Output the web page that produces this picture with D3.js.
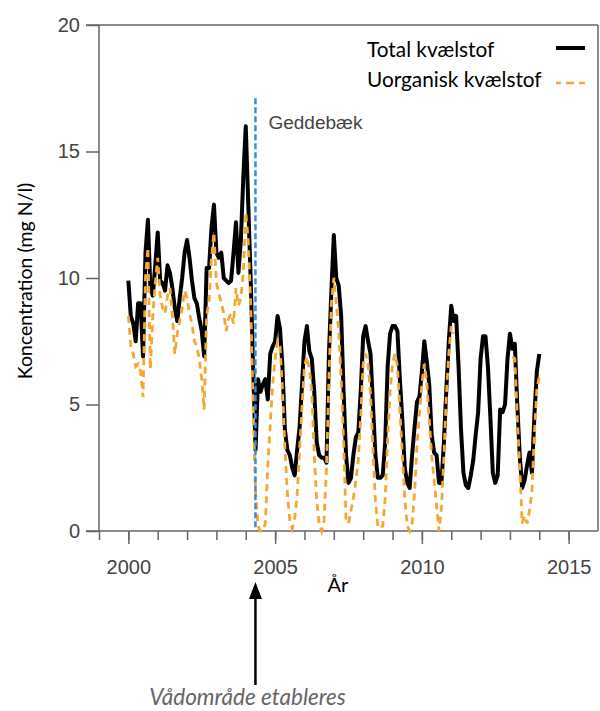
<!DOCTYPE html>
<html>
<head>
	<title>Geddebæk - kvælstof</title>
	<script src="https://d3js.org/d3.v7.min.js"></script>
	<style type="text/css">
		body {
			margin: 0;
			background: #fff;
		}
		svg {
			display: block;
		}
		.axis text {
			font-family: "Liberation Sans", Arial, sans-serif;
			font-size: 20px;
			fill: #444;
		}
		.axis line {
			stroke: #666;
			stroke-width: 1.5;
		}
		.frame {
			stroke: #666;
			stroke-width: 1.5;
		}
		.label {
			font-family: Lato, "Open Sans", sans-serif;
			fill: #000;
		}
	</style>
</head>
<body>

<div id="chart"></div>

<script>
	// monthly values, Jan 2000 - Jan 2014 (mg N/l)
	var totalN = [
		9.9, 8.5, 8.2, 7.5, 9.0, 9.0, 6.9, 11.0, 12.3, 9.6, 9.3, 10.5,
		11.8, 9.9, 9.8, 9.5, 10.5, 10.2, 9.6, 8.8, 8.3, 9.2, 10.0, 11.0,
		11.5, 10.8, 9.9, 9.2, 9.0, 8.4, 7.9, 6.9, 10.4, 10.4, 12.0, 12.9,
		11.0, 10.8, 11.0, 10.0, 9.9, 9.8, 9.9, 11.0, 12.2, 10.2, 11.5, 14.0,
		16.0, 13.0, 10.0, 6.5, 3.2, 6.0, 5.5, 5.8, 6.0, 5.2, 7.0, 7.3,
		7.5, 8.5, 8.0, 6.5, 4.0, 3.2, 3.0, 2.5, 2.2, 3.2, 4.1, 5.8,
		7.5, 8.1, 7.1, 6.8, 5.5, 3.5, 3.0, 2.9, 2.9, 2.7, 7.0, 9.5,
		11.7, 10.0, 9.7, 8.5, 5.5, 3.0, 1.9, 2.1, 3.0, 3.7, 3.9, 5.5,
		7.7, 8.1, 7.5, 7.0, 5.0, 3.0, 2.1, 2.1, 2.2, 3.5, 6.5, 7.8,
		8.1, 8.1, 7.9, 6.0, 4.4, 2.5, 1.9, 1.7, 3.0, 4.1, 5.1, 5.3,
		6.3, 7.5, 6.7, 5.8, 3.8, 3.1, 3.0, 1.9, 1.9, 3.5, 5.6, 7.5,
		8.9, 8.3, 8.5, 6.5, 4.0, 2.3, 1.8, 1.7, 2.2, 2.8, 3.8, 4.7,
		6.8, 7.7, 7.7, 6.5, 4.5, 2.3, 1.9, 2.2, 4.8, 4.7, 5.0, 6.8,
		7.8, 7.2, 7.4, 5.0, 3.0, 1.7, 2.0, 2.6, 3.1, 2.3, 4.6, 6.3,
		7.0
	];

	// null = no measurement
	var inorgN = [
		8.5, 7.3, 7.0, 6.5, 6.6, 6.3, 5.3, 10.0, 11.2, 6.4, 8.5, 9.8,
		10.8, 9.3, 8.8, 8.6, 9.3, 9.6, 8.5, 7.0, 7.8, 8.3, 8.8, 9.5,
		9.2, 8.6, 8.2, 7.5, 7.3, 6.8, 6.0, 4.8, 8.5, 9.1, 10.8, 11.8,
		9.8, 9.4, 9.0, 8.6, 7.9, 8.4, 8.6, 8.2, 9.6, 8.9, 9.2, 10.2,
		12.6, 11.5, 9.0, 5.0, 1.5, 0.2, 0.0, 0.0, 0.3, 2.6, 4.2, 5.8,
		6.8, 7.5, 7.3, 5.6, 3.3, 1.5, 0.4, 0.1, 0.5, 1.4, 3.2, 4.9,
		6.5, 6.9, 6.4, 5.5, 3.0, 1.2, 0.3, 0.0, 0.4, 2.5, 6.0, 9.0,
		10.0, 9.0, 7.9, 6.0, 3.5, 0.4, 0.3, 0.8, 1.3, 2.0, 2.8, 4.5,
		6.6, 7.0, 6.6, 5.4, 3.2, 1.2, 0.2, 0.1, 0.2, 1.3, 3.6, 5.5,
		6.6, 7.0, 6.5, 4.8, 3.0, 1.3, 0.2, 0.0, 0.3, 1.5, 3.4, 4.6,
		5.8, 6.6, 5.9, 4.4, 3.0, 2.0, 1.0, 0.0, 0.9, 2.9, 5.4, 7.0,
		8.1, 7.8, null, null, null, null, null, null, null, null, null, null,
		null, null, null, null, null, null, null, null, null, null, null, null,
		null, 6.9, 6.8, 4.5, 2.5, 0.3, 0.6, 0.3, 0.8, 1.6, 3.8, 5.6,
		6.1
	];

	var startYear = 2000;
	var yearTicks = [1999, 2000, 2001, 2002, 2003, 2004, 2005, 2006, 2007, 2008, 2009, 2010, 2011, 2012, 2013, 2014, 2015];
	var yearLabels = [2000, 2005, 2010, 2015];
	var yTicks = [0, 5, 10, 15, 20];
	var seriesNames = ["Total kvælstof", "Uorganisk kvælstof"];

	// wetland established
	var geddeYear = 2004.33;
	var geddeTop = 17.1;

	var margin = {top: 25, left: 99, bottom: 180, right: 2};
	var width = 600 - margin.left - margin.right;
	var height = 711 - margin.top - margin.bottom;

	var x = d3.scaleLinear().domain([1999, 2016]).range([0, width]);
	var y = d3.scaleLinear().domain([0, 20]).range([height, 0]);

	var svg = d3.select("#chart").append("svg")
		.attr("width", 600)
		.attr("height", 711)
		.append("g")
		.attr("transform", "translate(" + margin.left + "," + margin.top + ")");

	var months = totalN.map(function(d, i) { return startYear + i / 12; });

	// frame
	svg.append("line").attr("class", "frame")
		.attr("x1", -13).attr("x2", width).attr("y1", 0).attr("y2", 0);
	svg.append("line").attr("class", "frame")
		.attr("x1", width).attr("x2", width).attr("y1", 0).attr("y2", height);
	svg.append("line").attr("class", "frame")
		.attr("x1", -13).attr("x2", width).attr("y1", height).attr("y2", height);
	svg.append("line").attr("class", "frame")
		.attr("x1", 0).attr("x2", 0).attr("y1", 0).attr("y2", height);

	// axes
	svg.append("g")
		.attr("class", "axis")
		.attr("transform", "translate(0," + height + ")")
		.call(d3.axisBottom(x).tickValues(yearTicks).tickSize(9).tickFormat(""))
		.call(function(g) { g.select(".domain").remove(); });

	svg.append("g")
		.attr("class", "axis")
		.attr("transform", "translate(0," + height + ")")
		.call(d3.axisBottom(x).tickValues(yearLabels).tickSize(13).tickPadding(16).tickFormat(d3.format("d")))
		.call(function(g) { g.select(".domain").remove(); });

	svg.append("g")
		.attr("class", "axis")
		.call(d3.axisLeft(y).tickValues(yTicks).tickSize(13).tickPadding(6))
		.call(function(g) { g.select(".domain").remove(); });

	// lines
	var line = d3.line()
		.defined(function(d) { return d[1] !== null; })
		.x(function(d) { return x(d[0]); })
		.y(function(d) { return y(d[1]); });

	svg.append("path")
		.datum(months.map(function(m, i) { return [m, totalN[i]]; }))
		.attr("d", line)
		.attr("fill", "none")
		.attr("stroke", "#000")
		.attr("stroke-width", 4)
		.attr("stroke-linejoin", "round");

	svg.append("path")
		.datum(months.map(function(m, i) { return [m, inorgN[i]]; }))
		.attr("d", line)
		.attr("fill", "none")
		.attr("stroke", "#f6a732")
		.attr("stroke-width", 2.8)
		.attr("stroke-dasharray", "7,5");

	// Geddebæk marker
	svg.append("line")
		.attr("x1", x(geddeYear)).attr("x2", x(geddeYear))
		.attr("y1", y(geddeTop)).attr("y2", y(0))
		.attr("stroke", "#3c8dd3")
		.attr("stroke-width", 2.5)
		.attr("stroke-dasharray", "6,3");

	svg.append("text")
		.attr("x", x(geddeYear) + 13)
		.attr("y", 104)
		.style("font-family", "'Liberation Sans', Arial, sans-serif")
		.style("font-size", "19px")
		.style("fill", "#444")
		.text("Geddebæk");

	// legend
	var legend = svg.append("g").attr("transform", "translate(268,0)");
	legend.append("text").attr("class", "label")
		.attr("x", 0).attr("y", 32)
		.style("font-size", "20.8px")
		.text(seriesNames[0]);
	legend.append("text").attr("class", "label")
		.attr("x", 0).attr("y", 62)
		.style("font-size", "20.8px")
		.text(seriesNames[1]);
	legend.append("line")
		.attr("x1", 189).attr("x2", 218).attr("y1", 23).attr("y2", 23)
		.attr("stroke", "#000").attr("stroke-width", 4);
	legend.append("line")
		.attr("x1", 189).attr("x2", 218).attr("y1", 58).attr("y2", 58)
		.attr("stroke", "#f6a732").attr("stroke-width", 2.5)
		.attr("stroke-dasharray", "8,5").attr("stroke-dashoffset", 3);

	// axis titles
	svg.append("text").attr("class", "label")
		.attr("transform", "translate(-67," + (height / 2 + 3) + ") rotate(-90)")
		.attr("text-anchor", "middle")
		.style("font-size", "19.5px")
		.text("Koncentration (mg N/l)");

	svg.append("text").attr("class", "label")
		.attr("x", 239)
		.attr("y", height + 61)
		.attr("text-anchor", "middle")
		.style("font-size", "20px")
		.text("År");

	// arrow: Vådområde etableres
	var ax = x(geddeYear);
	svg.append("line")
		.attr("x1", ax).attr("x2", ax)
		.attr("y1", height + 154).attr("y2", height + 64)
		.attr("stroke", "#000").attr("stroke-width", 2.5);
	svg.append("path")
		.attr("d", "M" + ax + "," + (height + 51) + "L" + (ax - 6.5) + "," + (height + 68) + "L" + (ax + 6.5) + "," + (height + 68) + "Z")
		.attr("fill", "#000");

	svg.append("text").attr("class", "label")
		.attr("x", ax - 8)
		.attr("y", height + 174)
		.attr("text-anchor", "middle")
		.style("font-size", "22.5px")
		.style("font-style", "italic")
		.style("fill", "#666")
		.text("Vådområde etableres");
</script>

</body>
</html>
